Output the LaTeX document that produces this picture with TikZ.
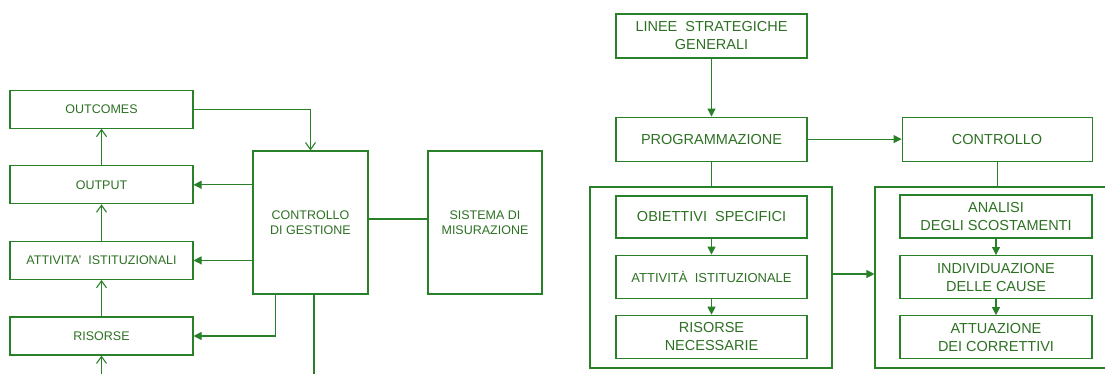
\documentclass[tikz,border=0pt]{standalone}
\usepackage{fontspec}
\setmainfont{Liberation Sans}
\usetikzlibrary{positioning,arrows.meta}
\definecolor{boxgreen}{RGB}{40,128,40}
\definecolor{textgreen}{RGB}{45,112,35}

\begin{document}
\begin{tikzpicture}[x=1pt, y=-1pt,
    con/.style = {draw=boxgreen, line width=1.1pt},
    box/.style = {con, inner sep=0pt, align=center, text=textgreen},
    small/.style = {font=\fontsize{12.5}{15}\selectfont},
    large/.style = {font=\fontsize{14.5}{18}\selectfont},
    leftbox/.style = {box, small, minimum width=183pt, minimum height=38pt},
    tallbox/.style = {box, small, minimum width=115pt, minimum height=143pt},
    rightbox/.style = {box, large, minimum width=191pt, minimum height=43pt},
    group/.style = {con, minimum width=242pt, minimum height=181pt},
    fill tip/.style = {con, -{Triangle[length=8pt,width=8pt]}},
    open tip/.style = {con, -{Straight Barb[length=7pt,width=10pt]}}]
    \useasboundingbox (0,0) rectangle (1105,374);
    \clip (0,0) rectangle (1105,374);

    \node[leftbox] (ris) at (101.5,336) {RISORSE};
    \node[leftbox, above = 36.5pt of ris] (att) {ATTIVITA'~ ISTITUZIONALI};
    \node[leftbox, above = 36.5pt of att] (outp) {OUTPUT};
    \node[leftbox, above = 36.5pt of outp] (outc) {OUTCOMES};
    \node[tallbox] (cg) at (310.5,222.5) {CONTROLLO\\DI GESTIONE};
    \node[tallbox, minimum width=114pt] (sm) at (485,222.5) {SISTEMA DI\\MISURAZIONE};
    \coordinate (risin) at (101.5,380);
    \coordinate (cgend) at (314,380);

    \draw[open tip] (risin) -- (ris.south);
    \draw[open tip] (ris) -- (att);
    \draw[open tip] (att) -- (outp);
    \draw[open tip] (outp) -- (outc);
    \draw[open tip] (outc.east) -| (cg.north);
    \draw[fill tip] (cg.west |- outp.east) -- (outp.east);
    \draw[fill tip] (cg.west |- att.east) -- (att.east);
    \draw[fill tip] ([xshift=23pt]cg.south west) |- (ris.east);
    \draw[con] (cgend |- cg.south) -- (cgend);
    \draw[con] ([yshift=3.5pt]cg.east) -- ([yshift=3.5pt]sm.west);

    \node[rightbox, minimum height=44pt] (lin) at (711.5,36) {LINEE~ STRATEGICHE\\GENERALI};
    \node[rightbox, minimum height=44pt, below = 58pt of lin] (prog) {PROGRAMMAZIONE};
    \node[rightbox, minimum height=44pt, minimum width=190pt, right = 94pt of prog] (ctrl) {CONTROLLO};
    \node[group] (gp) at (711,277.5) {};
    \node[group, minimum width=244pt] (gc) at (997,277.5) {};

    \node[rightbox, minimum height=42pt] (obi) at (711.5,217) {OBIETTIVI~ SPECIFICI};
    \node[rightbox, below = 16pt of obi, font=\fontsize{13}{16}\selectfont] (atti) {ATTIVIT\`A~ ISTITUZIONALE};
    \node[rightbox, below = 16pt of atti] (risn) {RISORSE\\NECESSARIE};
    \node[rightbox, minimum width=192pt] (ana) at (996,216.5) {ANALISI\\DEGLI SCOSTAMENTI};
    \node[rightbox, minimum width=192pt, below = 16.5pt of ana] (ind) {INDIVIDUAZIONE\\DELLE CAUSE};
    \node[rightbox, minimum width=192pt, below = 16pt of ind] (attu) {ATTUAZIONE\\DEI CORRETTIVI};

    \draw[fill tip] (lin) -- (prog);
    \draw[fill tip] (prog) -- (ctrl);
    \draw[con] (prog.south) -- (prog.south |- gp.north);
    \draw[con] (ctrl.south) -- (ctrl.south |- gc.north);
    \draw[fill tip] ([yshift=3.5pt]gp.east) -- ([yshift=3.5pt]gc.west);
    \draw[fill tip] (obi) -- (atti);
    \draw[fill tip] (atti) -- (risn);
    \draw[fill tip] (ana) -- (ind);
    \draw[fill tip] (ind) -- (attu);
\end{tikzpicture}
\end{document}
